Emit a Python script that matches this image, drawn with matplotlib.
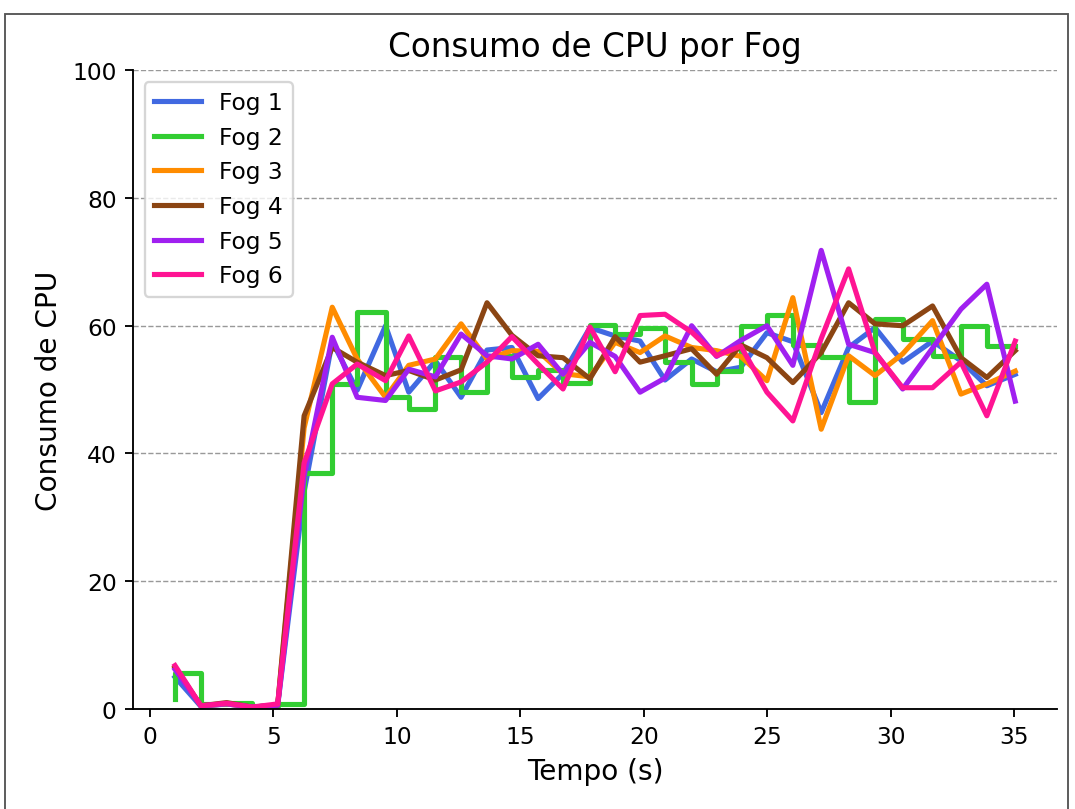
import matplotlib
matplotlib.use("Agg")
import matplotlib.pyplot as plt
from matplotlib.patches import Rectangle

# tempo de cada amostra (s)
tempo = [1.01, 2.06, 3.10, 4.14, 5.17, 6.24, 7.38, 8.39, 9.54, 10.48, 11.56,
         12.60, 13.65, 14.66, 15.72, 16.73, 17.82, 18.84, 19.85, 20.86, 21.94,
         22.95, 23.93, 24.99, 26.04, 27.19, 28.30, 29.37, 30.49, 31.70, 32.85,
         33.90, 35.05]

fog1 = [5.0, 0.4, 0.8, 0.3, 0.6, 34.0, 57.5, 49.9, 60.0, 49.6, 54.5,
        48.8, 56.2, 56.6, 48.6, 52.5, 59.7, 58.4, 57.6, 51.5, 54.8,
        52.8, 53.5, 58.9, 57.5, 46.4, 56.6, 59.7, 54.3, 57.6, 54.5,
        50.6, 52.4]
fog2 = [1.5, 5.7, 0.8, 1.0, 0.5, 0.8, 37.0, 50.9, 62.1, 48.8, 47.0,
        55.1, 49.6, 55.3, 52.0, 53.0, 51.0, 60.1, 58.7, 59.7, 54.3,
        50.9, 52.9, 60.0, 61.7, 57.0, 55.1, 48.1, 61.1, 58.0, 55.3,
        60.0, 56.8]
fog3 = [6.5, 0.5, 0.8, 0.3, 0.6, 44.0, 62.9, 54.8, 48.8, 53.8, 54.8,
        60.3, 54.8, 56.1, 56.0, 52.5, 52.0, 57.4, 55.8, 58.4, 56.6,
        56.1, 55.2, 51.4, 64.4, 43.8, 55.3, 52.2, 55.6, 60.8, 49.3,
        50.9, 52.9]
fog4 = [6.5, 0.5, 1.0, 0.3, 0.6, 45.9, 56.6, 54.3, 52.2, 53.0, 51.5,
        53.1, 63.6, 58.5, 55.3, 55.0, 51.7, 58.3, 54.3, 55.3, 56.4,
        52.4, 57.0, 55.0, 51.1, 55.8, 63.6, 60.3, 60.0, 63.1, 55.0,
        51.9, 56.1]
fog5 = [6.2, 0.5, 0.8, 0.3, 0.6, 36.5, 58.2, 48.8, 48.3, 53.2, 52.0,
        58.7, 55.3, 54.8, 57.1, 52.4, 57.4, 55.2, 49.6, 51.8, 60.0,
        55.2, 57.7, 60.0, 53.8, 71.8, 57.1, 55.8, 50.1, 56.5, 62.6,
        66.5, 48.2]
fog6 = [6.8, 0.5, 0.9, 0.3, 0.8, 38.5, 50.9, 54.0, 51.4, 58.4, 49.8,
        51.2, 54.3, 58.3, 54.0, 50.1, 59.8, 52.8, 61.6, 61.8, 59.0,
        55.3, 56.8, 49.6, 45.1, 58.0, 68.9, 55.8, 50.3, 50.3, 54.3,
        45.9, 57.6]

series = [
    ("Fog 1", fog1, "royalblue", "default"),
    ("Fog 2", fog2, "limegreen", "steps-pre"),
    ("Fog 3", fog3, "darkorange", "default"),
    ("Fog 4", fog4, "saddlebrown", "default"),
    ("Fog 5", fog5, "#A020F0", "default"),
    ("Fog 6", fog6, "deeppink", "default"),
]

fig = plt.figure(figsize=(6.4, 4.82), dpi=168)
ax = fig.add_axes([0.1237, 0.1235, 0.8596, 0.7888])

for nome, valores, cor, estilo in series:
    ax.plot(tempo, valores, color=cor, linewidth=2.2, drawstyle=estilo, label=nome)

ax.set_ylim(0, 100)
ax.set_yticks([0, 20, 40, 60, 80, 100])
ax.set_xticks(range(0, 36, 5))
ax.set_title("Consumo de CPU por Fog", fontsize=14)
ax.set_xlabel("Tempo (s)", fontsize=12)
ax.set_ylabel("Consumo de CPU", fontsize=12)
ax.yaxis.grid(True, linestyle="--", color="gray", linewidth=0.6, alpha=0.8)
ax.set_axisbelow(True)
ax.spines["top"].set_visible(False)
ax.spines["right"].set_visible(False)
ax.legend(loc="upper left", fontsize=10)

# moldura da figura no documento
fig.add_artist(Rectangle((5 / 1075, -0.01), 1063 / 1075, 1 - 15 / 810 + 0.01,
                         transform=fig.transFigure, fill=False,
                         edgecolor="#555555", linewidth=0.8))

fig.savefig("out.png", dpi=168)
